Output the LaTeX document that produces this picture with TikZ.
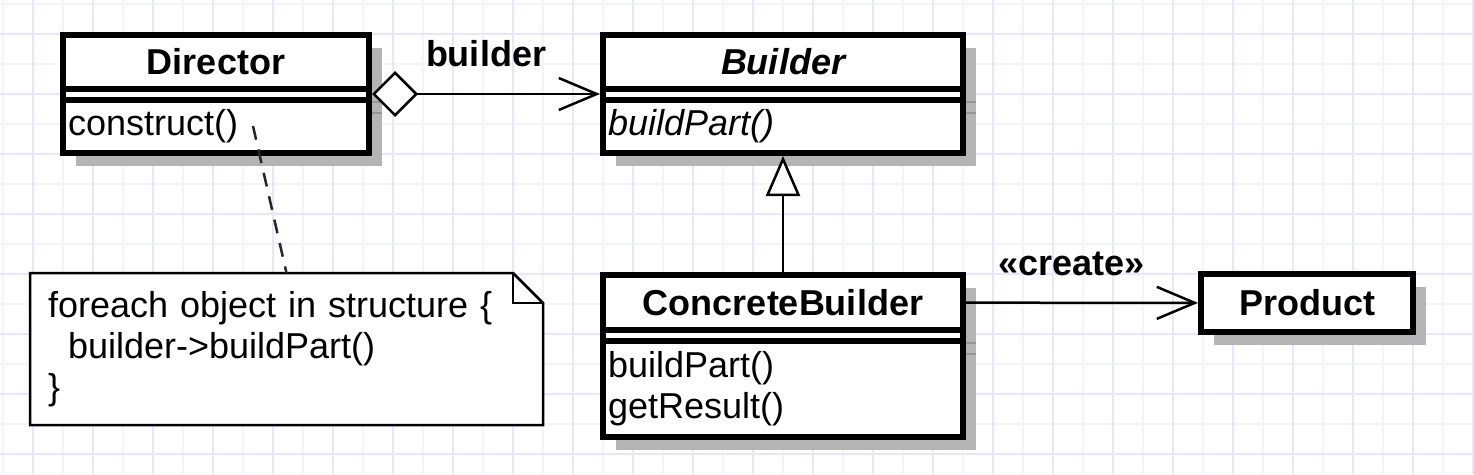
\documentclass[tikz,border=0pt]{standalone}
\usepackage{fontspec}
\setmainfont{Liberation Sans}
\usetikzlibrary{arrows.meta}
\usetikzlibrary{shadows}
\usetikzlibrary{backgrounds}
\definecolor{gridminor}{RGB}{243,243,255}
\definecolor{gridmajor}{RGB}{231,231,252}
\definecolor{shadowgray}{RGB}{180,180,180}
\definecolor{stubgray}{RGB}{150,150,150}
\tikzset{
  classframe/.style= {draw, fill=white, line width=6pt,
    drop shadow={shadow xshift=13pt, shadow yshift=-13pt, fill=shadowgray, opacity=1}},
  classhead/.style= {draw, line width=6pt, outer sep=0pt, minimum height=54pt,
    font=\fontsize{36}{41}\selectfont\bfseries},
  classops/.style= {draw, line width=6pt, outer sep=0pt, anchor=north west, inner xsep=5pt,
    align=left, font=\fontsize{36}{41}\selectfont},
  product/.style= {classframe, font=\fontsize{36}{41}\selectfont\bfseries},
  notebox/.style= {outer sep=0pt, minimum width=513pt, minimum height=152pt, text width=477pt,
    inner xsep=18pt, align=left, font=\fontsize{36}{41}\selectfont},
  notepaper/.style= {draw, fill=white, line width=2.5pt, line join=miter},
  noteline/.style= {line width=2.5pt, black!85, dash pattern=on 14pt off 10pt},
  connector/.style= {line width=2.5pt},
  edgelabel/.style= {inner sep=3pt, font=\fontsize{36}{41}\selectfont\bfseries},
  stubline/.style= {stubgray, line width=2pt},
}

\begin{document}
\begin{tikzpicture}[x=1pt, y=-1pt]
  \useasboundingbox (0,0) rectangle (1474,474);
  \begin{scope}[on background layer]
    \fill[white] (0,0) rectangle (1474,474);
    \foreach \gx in {3,63,...,1474} \draw[gridminor, line width=1.5pt] (\gx,0) -- (\gx,474);
    \foreach \gy in {4,64,...,474} \draw[gridminor, line width=1.5pt] (0,\gy) -- (1474,\gy);
    \foreach \gx in {33,93,...,1474} \draw[gridmajor, line width=2pt] (\gx,0) -- (\gx,474);
    \foreach \gy in {34,94,...,474} \draw[gridmajor, line width=2pt] (0,\gy) -- (1474,\gy);
  \end{scope}

  \node [classframe, minimum width=306pt, minimum height=118pt] (director) at (216,94) {} ;
  \node [classhead, minimum width=306pt] (director-h) at (216,62) {Director} ;
  \node [classops, text width=296pt, minimum height=53pt] (director-o) at (63,100) {construct()} ;

  \node [classframe, minimum width=360pt, minimum height=118pt] (builder) at (783,94) {} ;
  \node [classhead, minimum width=360pt, font=\fontsize{36}{41}\selectfont\bfseries\itshape] (builder-h) at (783,62) {Builder} ;
  \node [classops, text width=350pt, minimum height=53pt, font=\fontsize{36}{41}\selectfont\itshape] (builder-o) at (603,100) {buildPart()} ;

  \node [classframe, minimum width=360pt, minimum height=162pt] (concrete) at (783,356) {} ;
  \node [classhead, minimum width=360pt, minimum height=55pt] (concrete-h) at (783,302.5) {ConcreteBuilder} ;
  \node [classops, text width=350pt, minimum height=96pt] (concrete-o) at (603,341) {buildPart()\\getResult()} ;

  \node [product, minimum width=212pt, minimum height=58pt] (product) at (1307,303) {Product} ;

  \node [notebox] (note) at (286.5,349) {foreach object in structure \{\\\hspace*{20pt}builder->buildPart()\\\}} ;
  \begin{scope}[on background layer]
    \draw[notepaper] (note.north west) -- ([xshift=-30pt]note.north east) -- ([yshift=-30pt]note.north east)
      -- (note.south east) -- (note.south west) -- cycle;
    \draw[notepaper, fill=none] ([xshift=-30pt]note.north east) |- ([yshift=-30pt]note.north east);
  \end{scope}
  \coordinate (hook) at (253,126);

  \foreach \cls in {director,builder,concrete} {
    \draw[stubline] ([yshift=-13pt]\cls-h.south east) ++(3,0) -- ++(10,0);
    \draw[stubline] ([yshift=-13pt]\cls-o.north east) ++(3,0) -- ++(10,0);
  }

  \draw[connector, {Diamond[fill=white, length=46pt, width=46pt]}-{Straight Barb[length=38pt, width=32pt]}]
    (director) -- node[edgelabel, above=23pt] {builder} (builder);
  \draw[connector, -{Triangle[fill=white, length=40pt, width=34pt]}] (concrete) -- (builder);
  \draw[connector, -{Straight Barb[length=38pt, width=32pt]}]
    (concrete-h) -- node[edgelabel, above=23pt, pos=0.46] {«create»} (product);
  \draw[noteline] (hook) -- (note.north);
\end{tikzpicture}
\end{document}
